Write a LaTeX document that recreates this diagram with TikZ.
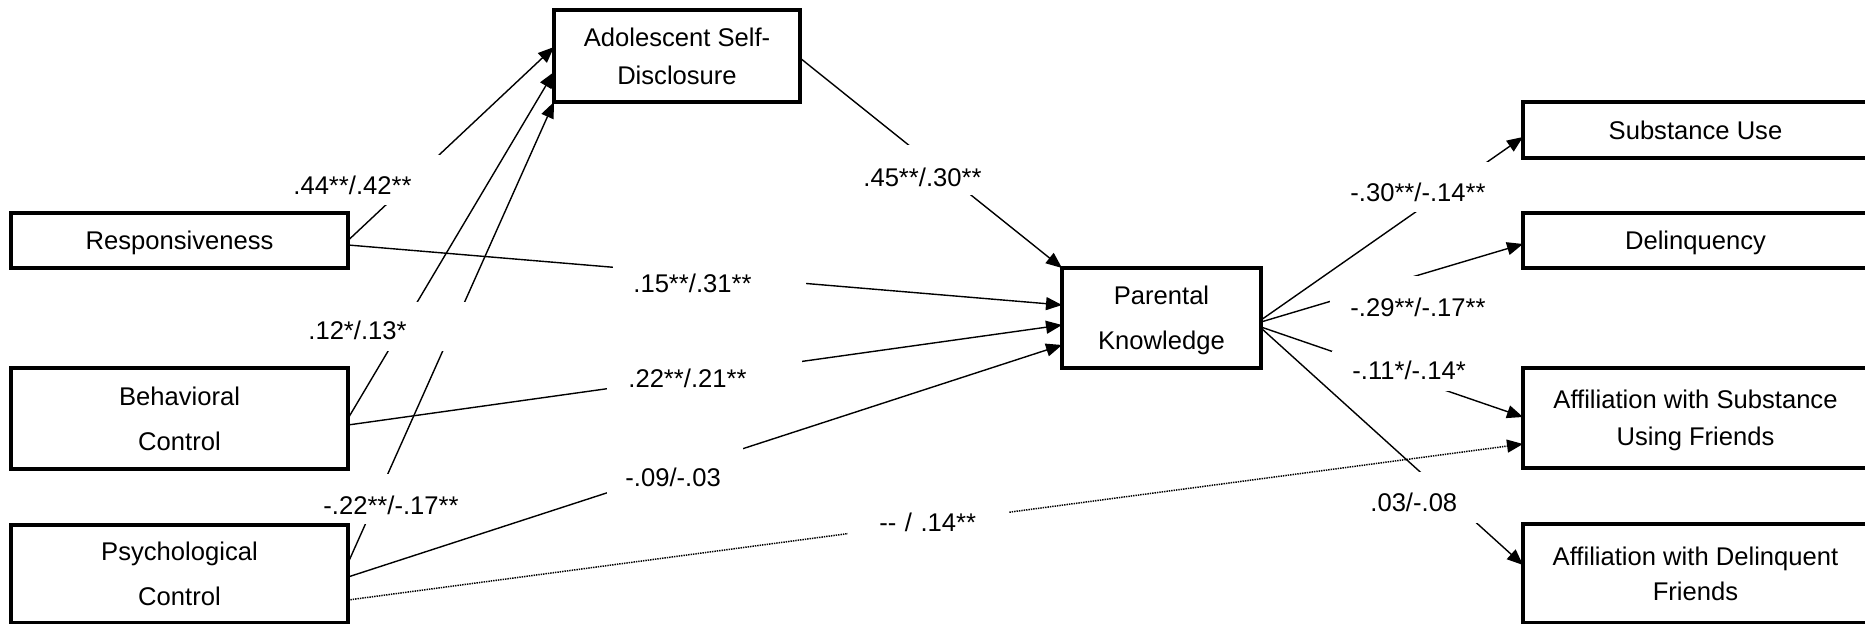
\documentclass[tikz,border=0pt]{standalone}
\usepackage{fontspec}
\setmainfont{Liberation Sans}
\usetikzlibrary{arrows.meta}
\pgfdeclarelayer{bg}
\pgfsetlayers{bg,main}
\newcommand{\lsp}[1]{\fontsize{12.8pt}{#1}\selectfont}

\begin{document}
\begin{tikzpicture}[x=0.5pt, y=-0.5pt,
  varbox/.style={draw, line width=1.6pt, inner sep=0pt, outer sep=0pt, align=center, text depth=0pt, font=\lsp{18.5pt}},
  coef/.style={fill=white, inner ysep=0pt, align=left, anchor=base west, font=\lsp{15pt}},
  link/.style={line width=0.7pt, -{Triangle[length=8pt, width=6.5pt]}},
  dotlink/.style={link, line width=0.75pt, dash pattern=on 0.7pt off 0.5pt}]
\useasboundingbox (0,0) rectangle (1865,624);

% parenting variables
\node[varbox, minimum width=168.5pt, minimum height=27.5pt] (resp) at (179.5,240.5) {Responsiveness};
\node[varbox, minimum width=168.5pt, minimum height=50.5pt, font=\lsp{22.5pt}] (beh) at (179.5,418.5) {Behavioral\\Control};
\node[varbox, minimum width=168.5pt, minimum height=49pt, font=\lsp{22.5pt}] (psy) at (179.5,574) {Psychological\\Control};
\node[varbox, minimum width=123pt, minimum height=46pt, font=\lsp{19pt}] (asd) at (677,56) {Adolescent Self-\\Disclosure};
\node[varbox, minimum width=99.5pt, minimum height=50pt, font=\lsp{22.5pt}] (pk) at (1161.5,318) {Parental\\Knowledge};
% outcomes
\node[varbox, minimum width=172.5pt, minimum height=28pt] (su) at (1695.5,130) {Substance Use};
\node[varbox, minimum width=172.5pt, minimum height=27.5pt] (del) at (1695.5,240.5) {Delinquency};
\node[varbox, minimum width=172.5pt, minimum height=50pt] (asuf) at (1695.5,418) {Affiliation with Substance\\Using Friends};
\node[varbox, minimum width=172.5pt, minimum height=49.5pt, font=\lsp{17.5pt}] (adf) at (1695.5,573.5) {Affiliation with Delinquent\\Friends};

\begin{pgfonlayer}{bg}
\draw[link] (resp.east) -- ([yshift=4.5pt]asd.west);
\draw[link] (beh.east) -- ([yshift=-8pt]asd.west);
\draw[link] ([yshift=5.5pt]psy.east) -- (asd.south west);
\draw[link] ([yshift=-2.25pt]resp.east) -- ([yshift=6.5pt]pk.west);
\draw[link] ([yshift=-3.25pt]beh.east) -- ([yshift=-3.5pt]pk.west);
\draw[link] ([yshift=-1.5pt]psy.east) -- ([yshift=-13.5pt]pk.west);
\draw[link] ([yshift=-1pt]asd.east) -- (pk.north west);
\draw[dotlink] ([yshift=-13pt]psy.east) -- ([yshift=-13pt]asuf.west);
\draw[link] ([yshift=-1pt]pk.east) -- ([yshift=-3.5pt]su.west);
\draw[link] ([yshift=-2pt]pk.east) -- ([yshift=-1.75pt]del.west);
\draw[link] ([yshift=-4.5pt]pk.east) -- ([yshift=0.5pt]asuf.west);
\draw[link] ([yshift=-5pt]pk.east) -- ([yshift=4.25pt]adf.west);

% path coefficients
\node[coef, inner xsep=11.5pt, text width=63pt, text height=20pt, text depth=5pt] (c1) at (270,195) {.44**/.42**};
\node[coef, inner xsep=29pt, text width=53pt, text height=19pt, text depth=5.5pt] (c2) at (250,340) {.12*/.13*};
\node[coef, inner xsep=5pt, text width=71pt, text height=20.5pt, text depth=4.5pt] (c3) at (313,515) {-.22**/-.17**};
\node[coef, inner xsep=10pt, text width=76.5pt, text height=16.5pt, text depth=6pt] (c4) at (613,293) {.15**/.31**};
\node[coef, inner xsep=10.5pt, text width=76.5pt, text height=16.5pt, text depth=6pt] (c5) at (607,388) {.22**/.21**};
\node[coef, inner xsep=9pt, text width=50pt, text height=21pt, text depth=5pt] (c6) at (607,487) {-.09/-.03};
\node[coef, inner xsep=15.5pt, text width=49.5pt, text height=16pt, text depth=6.5pt] (c7) at (848,532) {-{}-~/~.14**};
\node[coef, inner xsep=4pt, text width=62pt, text height=21pt, text depth=4pt] (c8) at (855,187) {.45**/.30**};
\node[coef, inner xsep=5pt, text width=70pt, text height=20pt, text depth=5pt] (c9) at (1340,202) {-.30**/-.14**};
\node[coef, inner xsep=10pt, text width=70pt, text height=20.5pt, text depth=7.5pt] (c10) at (1330,317) {-.29**/-.17**};
\node[coef, inner xsep=10pt, text width=61.5pt, text height=14.5pt, text depth=5.5pt] (c11) at (1332,380) {-.11*/-.14*};
\node[coef, inner xsep=5pt, text width=55pt, text height=20pt, text depth=5.5pt] (c12) at (1360,512) {.03/-.08};
\end{pgfonlayer}
\end{tikzpicture}
\end{document}
